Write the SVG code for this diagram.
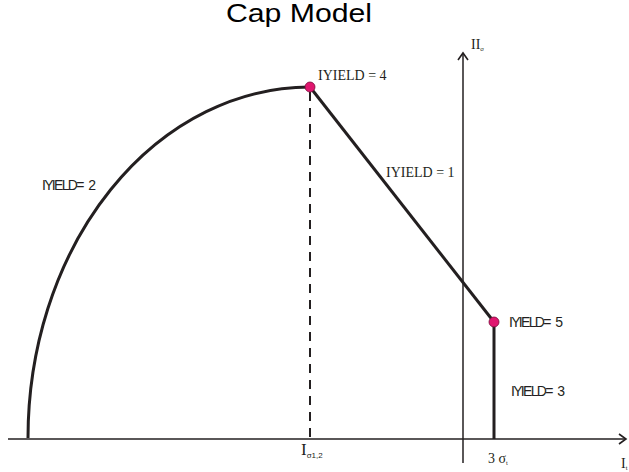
<svg xmlns="http://www.w3.org/2000/svg" width="629" height="472" viewBox="0 0 629 472">
<style>
.axis{stroke:#231f20;stroke-width:1.5;fill:none}
.curve{stroke:#231f20;stroke-width:3;fill:none}
.dash{stroke:#231f20;stroke-width:2;stroke-dasharray:9,7;fill:none}
.pt{fill:#e0176f;stroke:#7a0a3a;stroke-width:0.8}
.serif{font-family:"Liberation Serif","Times New Roman",serif;fill:#231f20}
.sans{font-family:"Liberation Sans",Arial,sans-serif;fill:#231f20;font-size:14px}
.squeeze{letter-spacing:-1.7px}
</style>
<defs>
<marker id="chev" markerWidth="12" markerHeight="12" refX="10" refY="6" orient="auto" markerUnits="userSpaceOnUse">
<path d="M3,1 L10,6 L3,11" fill="none" stroke="#231f20" stroke-width="1.6"/>
</marker>
</defs>
<rect width="629" height="472" fill="#ffffff"/>
<text x="226" y="22" font-family="Liberation Sans, Arial, sans-serif" font-size="25" textLength="146" lengthAdjust="spacingAndGlyphs" fill="#000">Cap Model</text>
<g id="connectors">
<line class="axis" x1="8" y1="439" x2="626" y2="439" marker-end="url(#chev)"/>
<line class="axis" x1="463" y1="463" x2="463" y2="53" marker-end="url(#chev)"/>
<path class="curve" d="M28,438 A282,351 0 0 1 310,87"/>
<line class="dash" x1="310" y1="92" x2="310" y2="438"/>
<line class="curve" x1="310" y1="87" x2="494" y2="322"/>
<line class="curve" x1="494" y1="322" x2="494" y2="439"/>
</g>
<g id="node-iyield4">
<circle class="pt" cx="310" cy="87" r="5"/>
<text x="318" y="80" class="serif" font-size="14">IYIELD = 4</text>
</g>
<g id="node-iyield5">
<circle class="pt" cx="494" cy="322" r="5"/>
<text x="509" y="327" class="sans"><tspan class="squeeze">IYIELD</tspan>= 5</text>
</g>
<g id="label-iyield1">
<text x="386" y="177" class="serif" font-size="14">IYIELD = 1</text>
</g>
<g id="label-iyield2">
<text x="42" y="190" class="sans"><tspan class="squeeze">IYIELD</tspan>= 2</text>
</g>
<g id="label-iyield3">
<text x="511" y="396" class="sans"><tspan class="squeeze">IYIELD</tspan>= 3</text>
</g>
<g id="axis-labels">
<text x="471" y="49" class="serif" font-size="14">II<tspan font-family="Liberation Sans, Arial, sans-serif" font-size="6" dy="2">σ</tspan></text>
<text x="301" y="455" class="serif" font-size="17">I<tspan font-family="Liberation Sans, Arial, sans-serif" font-size="8" dy="3">σ1,2</tspan></text>
<text x="488" y="463" class="serif" font-size="14">3 σ<tspan font-family="Liberation Sans, Arial, sans-serif" font-size="6" dy="2">t</tspan></text>
<text x="621" y="468" class="serif" font-size="14">I<tspan font-family="Liberation Sans, Arial, sans-serif" font-size="6" dy="2">t</tspan></text>
</g>
</svg>
